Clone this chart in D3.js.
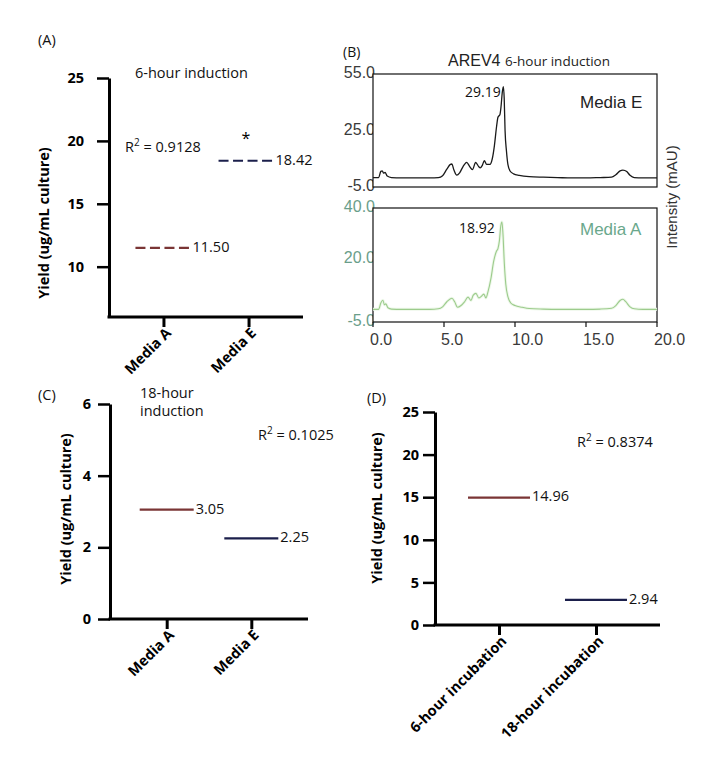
<!DOCTYPE html>
<html><head><meta charset="utf-8">
<script src="https://cdn.jsdelivr.net/npm/d3@7"></script>
<style>body{margin:0;background:#fff}svg{display:block}</style>
</head><body>
<svg id="c" width="712" height="760"></svg>
<script>
// ---------- DATA ----------
// Panel A: 6-hour induction
const catsA = ["Media A", "Media E"];
const valuesA = [11.50, 18.42];
const ticksA = [10, 15, 20, 25];
// Panel C: 18-hour induction
const catsC = ["Media A", "Media E"];
const valuesC = [3.05, 2.25];
const ticksC = [0, 2, 4, 6];
// Panel D: incubation time
const catsD = ["6-hour incubation", "18-hour incubation"];
const valuesD = [14.96, 2.94];
const ticksD = [0, 5, 10, 15, 20, 25];
// Panel B: chromatograms (time in min, intensity in mAU)
const timeE = [0,0.4,0.55,0.65,0.75,0.85,1.0,1.3,2,3,4,4.6,4.9,5.2,5.45,5.55,5.7,5.9,6.1,6.35,6.6,6.8,7.0,7.23,7.45,7.55,7.7,7.84,8.0,8.24,8.4,8.55,8.7,8.8,8.94,9.02,9.1,9.18,9.24,9.3,9.4,9.5,9.65,9.9,10.3,11,12,13,14,15,16,16.8,17.1,17.4,17.6,17.87,18.1,18.4,19,20];
const intensE = [0,0,3.3,3.6,2.4,2.8,0.8,0,-0.2,-0.2,-0.2,0,1,4.5,7,7.2,4,1.3,2.5,6,8.1,6,4.2,8,5.8,5.2,6.5,9,7,7,10,17,27,32,33.5,38,45,48.3,42,25,14,7,3.5,2,1.2,0.5,0.2,0,-0.2,-0.2,0,0.2,1.5,3.6,4,3.2,1.2,0,-0.2,-0.2];
const timeA = [0,0.4,0.55,0.7,0.8,0.9,1.05,1.3,2,3,4,4.6,4.9,5.2,5.56,5.75,5.95,6.2,6.45,6.69,6.9,7.05,7.25,7.45,7.6,7.8,7.95,8.1,8.3,8.5,8.7,8.8,8.9,9.0,9.08,9.15,9.25,9.35,9.5,9.7,10,10.5,11,12,13,14,15,16,16.8,17.1,17.4,17.6,17.8,18.1,18.4,19,20];
const intensA = [0,0,2.5,3.6,1.8,2.2,0.6,0.1,0,0,0,0.2,1,3,4.4,3,0.8,1.5,3,4.8,3.5,5.5,6.3,4.5,5,6,4.5,7,12,19,23,24,27,33,34.5,30,18,10,5,2.5,1.5,0.8,0.3,0.1,0,0,0,0.1,0.4,1.5,3.5,4,3,1,0.2,0,0];
const ticksBx = [0, 5, 10, 15, 20];
const ticksE = [-5, 25, 55];
const ticksAy = [-5, 20, 40];

// ---------- DRAW ----------
const svg = d3.select("#c");
svg.append("rect").attr("width",712).attr("height",760).attr("fill","#fff");
const RED = "#7a3535", NAVY = "#1b1f4b";
const F = "'Open Sans', 'Noto Sans', sans-serif";
const ARIAL = "'Liberation Sans', Arial, sans-serif";

function dotPanel(o){
  const g = svg.append("g");
  const y = d3.scaleLinear().domain(o.domain).range([o.bottom, o.top]);
  const x = d3.scalePoint().domain(o.cats).range([o.left, o.right]).padding(o.pad);
  // y axis
  const ya = g.append("g").attr("transform",`translate(${o.left},0)`)
    .call(d3.axisLeft(y).tickValues(o.ticks).tickSize(12).tickSizeOuter(0).tickPadding(o.tpad).tickFormat(d3.format("d")));
  ya.select(".domain").attr("stroke","#000").attr("stroke-width",3);
  ya.selectAll(".tick line").attr("stroke","#000").attr("stroke-width",2.5);
  ya.selectAll(".tick text").attr("font-family",F).attr("font-weight","bold").attr("font-size",14.5).attr("fill","#000");
  // x axis
  const xa = g.append("g").attr("transform",`translate(0,${o.bottom})`)
    .call(d3.axisBottom(x).tickSize(10).tickSizeOuter(0));
  xa.select(".domain").attr("stroke","#000").attr("stroke-width",3).attr("d",`M${o.left-1.5},0H${o.right}`);
  xa.selectAll(".tick line").attr("stroke","#000").attr("stroke-width",3);
  xa.selectAll(".tick text").attr("font-family",F).attr("font-weight","bold").attr("font-size",14.5).attr("fill","#000")
    .attr("text-anchor","end").attr("dy",null).attr("y",0)
    .attr("transform",`translate(8,17) rotate(-45)`);
  // y title
  g.append("text").attr("transform",`translate(${o.titleX},${o.titleY}) rotate(-90)`)
    .attr("text-anchor","middle").attr("dominant-baseline","middle")
    .attr("font-family",F).attr("font-weight","bold").attr("font-size",14.5).text("Yield (ug/mL culture)");
  // marks
  const cols = [RED, NAVY];
  o.values.forEach((v,i)=>{
    const cx = x(o.cats[i]) + (o.shift ? o.shift[i] : 0);
    g.append("line").attr("x1",cx-o.hw).attr("x2",cx+o.hw).attr("y1",y(v)).attr("y2",y(v))
      .attr("stroke",cols[i]).attr("stroke-width",2.2)
      .attr("stroke-dasharray",o.dash || null);
    g.append("text").attr("x",cx+o.hw+o.lblGap).attr("y",y(v)).attr("dominant-baseline","middle")
      .attr("font-family",F).attr("font-size",14.5).attr("fill","#111").text(d3.format(".2f")(v));
  });
  return {g,x,y};
}
function r2(g,x,y,val){
  const t = g.append("text").attr("x",x).attr("y",y).attr("font-family",F).attr("font-size",14.5).attr("fill","#111");
  t.append("tspan").text("R");
  t.append("tspan").attr("dy",-6).attr("font-size",10).text("2");
  t.append("tspan").attr("dy",6).text(" = " + val);
}
function label(txt,x,y){
  svg.append("text").attr("x",x).attr("y",y).attr("font-family",F).attr("font-size",14.5).attr("fill","#111").text(txt);
}

// Panel A
const A = dotPanel({cats:catsA, values:valuesA, ticks:ticksA, domain:[6,25], top:78, bottom:317, left:109, right:303, pad:0.64,
  hw:27, lblGap:3, dash:"10,4.5", shift:[-1,-3], titleX:45, titleY:223, tpad:13});
label("(A)",38,45);
label("6-hour induction",135,78);
r2(A.g,125,152,"0.9128");
A.g.append("text").attr("x",246).attr("y",144).attr("text-anchor","middle").attr("font-family",F).attr("font-size",16).text("*");

// Panel C
const C = dotPanel({cats:catsC, values:valuesC, ticks:ticksC, domain:[0,6], top:404, bottom:619, left:110, right:308, pad:0.67,
  hw:27, lblGap:2, titleX:67, titleY:509, tpad:7});
label("(C)",38,400);
label("18-hour",140,398);
label("induction",140,416);
r2(C.g,258,440,"0.1025");

// Panel D
const D = dotPanel({cats:catsD, values:valuesD, ticks:ticksD, domain:[0,25], top:412, bottom:625, left:435, right:660, pad:0.66,
  hw:31, lblGap:2, titleX:378, titleY:508, tpad:4});
label("(D)",367,403);
r2(D.g,577,447,"0.8374");

// Panel B
const gB = svg.append("g");
const xB = d3.scaleLinear().domain([0,20]).range([373,657]);
const yE = d3.scaleLinear().domain([-5,55]).range([187,74]);
const yA = d3.scaleLinear().domain([-5,40]).range([322,208]);
const fmt1 = d => d.toFixed(1);
gB.selectAll(".ye").data(ticksE).join("text").attr("x",375).attr("y",d=>yE(d)).attr("text-anchor","end")
  .attr("dominant-baseline","middle").attr("font-family",ARIAL).attr("font-size",16).attr("fill","#3a3a3a")
  .text(fmt1);
gB.selectAll(".ya").data(ticksAy).join("text").attr("x",375).attr("y",d=>yA(d)).attr("text-anchor","end")
  .attr("dominant-baseline","middle").attr("font-family",ARIAL).attr("font-size",16).attr("fill","#6a9e8a")
  .text(fmt1);
// frames
gB.append("rect").attr("x",xB(0)).attr("y",yE(55)).attr("width",xB(20)-xB(0)).attr("height",yE(-5)-yE(55))
  .attr("fill","#fff").attr("stroke","#111").attr("stroke-width",1.2);
gB.append("rect").attr("x",xB(0)).attr("y",yA(40)).attr("width",xB(20)-xB(0)).attr("height",yA(-5)-yA(40))
  .attr("fill","#fff").attr("stroke","#111").attr("stroke-width",1.2);
// x axis ticks & labels
gB.selectAll(".xt").data(ticksBx).join("line").attr("x1",d=>xB(d)).attr("x2",d=>xB(d)).attr("y1",yA(-5)).attr("y2",yA(-5)+5)
  .attr("stroke","#111").attr("stroke-width",1.2);
gB.selectAll(".xl").data(ticksBx).join("text").attr("x",d=>xB(d)-3).attr("y",345)
  .attr("font-family",ARIAL).attr("font-size",16).attr("fill","#3a3a3a").text(fmt1);
// traces
const lineE = d3.line().x(d=>xB(d[0])).y(d=>yE(d[1])).curve(d3.curveMonotoneX);
const lineA = d3.line().x(d=>xB(d[0])).y(d=>yA(d[1])).curve(d3.curveMonotoneX);
const dataE = d3.zip(timeE,intensE), dataA = d3.zip(timeA,intensA);
gB.append("path").attr("d",lineE(dataE)).attr("fill","none").attr("stroke","#1a1a1a").attr("stroke-width",1.3);
gB.append("path").attr("d",lineA(dataA)).attr("fill","none").attr("stroke","#eef8ea").attr("stroke-width",3);
gB.append("path").attr("d",lineA(dataA)).attr("fill","none").attr("stroke","#9ccb8c").attr("stroke-width",1.1);
// texts
gB.append("text").attr("x",343).attr("y",57).attr("font-family",F).attr("font-size",14).attr("fill","#111").text("(B)");
const tt = gB.append("text").attr("x",448).attr("y",66).attr("font-family",ARIAL).attr("font-size",16).attr("fill","#222");
tt.append("tspan").text("AREV4 ");
tt.append("tspan").attr("font-family",F).attr("font-size",13.5).text("6-hour induction");
gB.append("text").attr("x",465).attr("y",97).attr("font-family",F).attr("font-size",14).attr("fill","#111").text("29.19");
gB.append("text").attr("x",459).attr("y",233).attr("font-family",F).attr("font-size",14).attr("fill","#111").text("18.92");
gB.append("text").attr("x",580).attr("y",108).attr("font-family",ARIAL).attr("font-size",17).attr("fill","#222").text("Media E");
gB.append("text").attr("x",580).attr("y",235).attr("font-family",ARIAL).attr("font-size",17).attr("fill","#6aa88c").text("Media A");
gB.append("text").attr("transform","translate(673,197) rotate(-90)").attr("text-anchor","middle").attr("dominant-baseline","middle")
  .attr("font-family",ARIAL).attr("font-size",15).attr("fill","#333").text("Intensity (mAU)");
</script>
</body></html>
